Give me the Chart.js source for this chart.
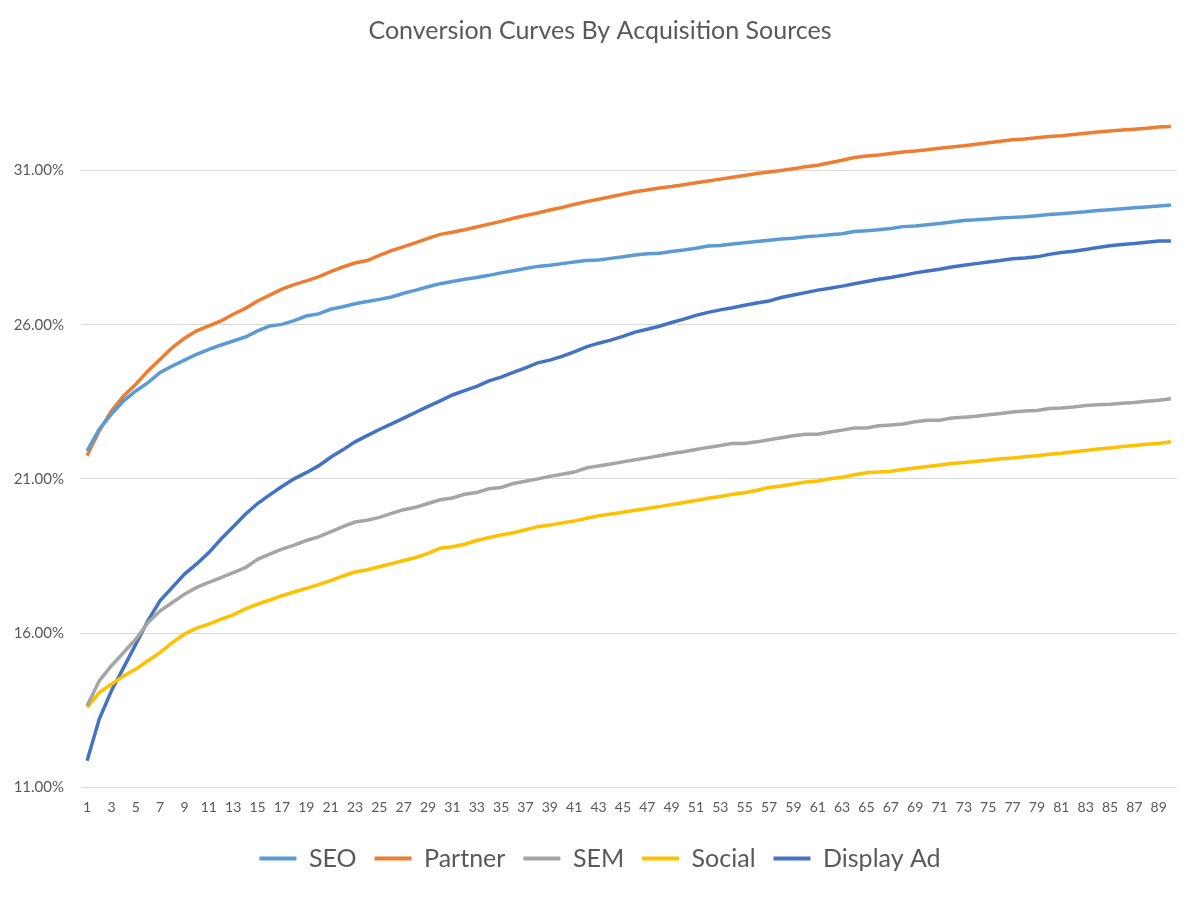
<!DOCTYPE html>
<html>
<head>
<meta charset="utf-8">
<script src="https://cdn.jsdelivr.net/npm/chart.js@4/dist/chart.umd.min.js"></script>
<style>
  html, body { margin: 0; padding: 0; background: #fff; }
  #wrap { width: 1194px; height: 898px; }
</style>
</head>
<body>
<div id="wrap"><canvas id="myChart" width="1194" height="898"></canvas></div>
<script>
// days since acquisition (1..90)
var days = [];
for (var d = 1; d <= 90; d++) days.push(String(d));

// conversion rates (%)
var seo = [21.91, 22.61, 23.1, 23.53, 23.85, 24.12, 24.45, 24.66, 24.85, 25.04,
    25.2, 25.34, 25.47, 25.6, 25.8, 25.96, 26.01, 26.13, 26.28, 26.35,
    26.5, 26.58, 26.68, 26.75, 26.82, 26.9, 27.02, 27.12, 27.23, 27.33,
    27.4, 27.47, 27.53, 27.6, 27.68, 27.75, 27.82, 27.89, 27.93, 27.98,
    28.03, 28.08, 28.1, 28.15, 28.2, 28.26, 28.3, 28.32, 28.37, 28.42,
    28.48, 28.55, 28.57, 28.62, 28.66, 28.7, 28.74, 28.78, 28.8, 28.85,
    28.88, 28.92, 28.95, 29.02, 29.05, 29.08, 29.12, 29.18, 29.2, 29.24,
    29.28, 29.33, 29.38, 29.4, 29.43, 29.46, 29.48, 29.5, 29.53, 29.57,
    29.6, 29.63, 29.66, 29.7, 29.73, 29.76, 29.79, 29.82, 29.85, 29.88];

var partner = [21.75, 22.56, 23.2, 23.69, 24.07, 24.5, 24.88, 25.26, 25.56, 25.8,
    25.96, 26.12, 26.34, 26.53, 26.77, 26.96, 27.15, 27.3, 27.42, 27.55,
    27.72, 27.87, 28.0, 28.08, 28.25, 28.4, 28.53, 28.66, 28.8, 28.93,
    29.0, 29.08, 29.17, 29.26, 29.35, 29.45, 29.54, 29.62, 29.72, 29.8,
    29.9, 29.99, 30.07, 30.15, 30.23, 30.31, 30.37, 30.43, 30.48, 30.54,
    30.6, 30.66, 30.72, 30.78, 30.84, 30.9, 30.95, 31.0, 31.06, 31.12,
    31.17, 31.25, 31.33, 31.42, 31.47, 31.5, 31.55, 31.6, 31.63, 31.67,
    31.72, 31.76, 31.8, 31.85, 31.9, 31.95, 32.0, 32.02, 32.06, 32.1,
    32.13, 32.17, 32.21, 32.25, 32.28, 32.31, 32.34, 32.37, 32.41, 32.43];

var sem = [13.64, 14.45, 14.94, 15.37, 15.8, 16.34, 16.72, 16.99, 17.26, 17.48,
    17.64, 17.8, 17.96, 18.12, 18.39, 18.56, 18.72, 18.85, 19.0, 19.12,
    19.28, 19.45, 19.6, 19.66, 19.75, 19.88, 20.0, 20.08, 20.2, 20.32,
    20.38, 20.5, 20.56, 20.68, 20.72, 20.85, 20.92, 21.0, 21.08, 21.15,
    21.22, 21.35, 21.42, 21.48, 21.55, 21.62, 21.68, 21.75, 21.82, 21.88,
    21.95, 22.02, 22.08, 22.15, 22.15, 22.2, 22.27, 22.33, 22.4, 22.45,
    22.45, 22.52, 22.58, 22.65, 22.65, 22.72, 22.75, 22.78, 22.85, 22.9,
    22.9, 22.97, 23.0, 23.03, 23.08, 23.12, 23.17, 23.2, 23.22, 23.28,
    23.3, 23.33, 23.38, 23.4, 23.42, 23.45, 23.48, 23.52, 23.55, 23.6];

var social = [13.59, 14.07, 14.34, 14.61, 14.83, 15.1, 15.37, 15.69, 15.97, 16.16,
    16.29, 16.45, 16.59, 16.78, 16.94, 17.07, 17.21, 17.33, 17.45, 17.57,
    17.7, 17.85, 17.98, 18.05, 18.15, 18.25, 18.35, 18.45, 18.58, 18.75,
    18.8, 18.88, 19.0, 19.1, 19.18, 19.25, 19.35, 19.45, 19.5, 19.57,
    19.63, 19.72, 19.8, 19.86, 19.92, 19.98, 20.04, 20.1, 20.17, 20.23,
    20.3, 20.37, 20.43, 20.5, 20.55, 20.63, 20.72, 20.77, 20.83, 20.9,
    20.93, 21.0, 21.05, 21.13, 21.2, 21.22, 21.25, 21.3, 21.35, 21.4,
    21.45, 21.5, 21.53, 21.57, 21.6, 21.65, 21.68, 21.72, 21.75, 21.8,
    21.83, 21.88, 21.92, 21.97, 22.0, 22.05, 22.08, 22.12, 22.15, 22.2];

var displayAd = [11.86, 13.21, 14.13, 14.88, 15.64, 16.4, 17.05, 17.48, 17.91, 18.24,
    18.61, 19.05, 19.45, 19.85, 20.2, 20.48, 20.75, 21.0, 21.2, 21.42,
    21.7, 21.94, 22.2, 22.4, 22.6, 22.78, 22.97, 23.16, 23.35, 23.53,
    23.72, 23.86, 24.0, 24.18, 24.3, 24.45, 24.6, 24.76, 24.85, 24.97,
    25.12, 25.28, 25.4, 25.5, 25.62, 25.76, 25.85, 25.95, 26.07, 26.18,
    26.3, 26.4, 26.48, 26.55, 26.63, 26.7, 26.77, 26.88, 26.96, 27.04,
    27.12, 27.18, 27.25, 27.33, 27.4, 27.47, 27.53, 27.6, 27.68, 27.74,
    27.8, 27.87, 27.93, 27.98, 28.03, 28.08, 28.14, 28.16, 28.2, 28.28,
    28.34, 28.38, 28.44, 28.5, 28.56, 28.6, 28.63, 28.67, 28.71, 28.71];

var yTicks = [11, 16, 21, 26, 31];

var seriesNames = ['SEO', 'Partner', 'SEM', 'Social', 'Display Ad'];
var seriesColors = ['#5B9BD5', '#ED7D31', '#A5A5A5', '#FFC000', '#4472C4'];
var seriesData = [seo, partner, sem, social, displayAd];

var textColor = '#595959';
var fontFamily = 'Lato, "Open Sans", sans-serif';

var datasets = [];
for (var i = 0; i < seriesNames.length; i++) {
    datasets.push({
        label: seriesNames[i],
        data: seriesData[i],
        borderColor: seriesColors[i],
        backgroundColor: seriesColors[i],
        borderWidth: 3.5,
        pointRadius: 0,
        tension: 0,
        fill: false
    });
}

const ctx = document.getElementById('myChart').getContext('2d');
const myChart = new Chart(ctx, {
    type: 'line',
    data: {
        labels: days,
        datasets: datasets
    },
    options: {
        responsive: false,
        animation: false,
        layout: {
            padding: { left: 10, right: 4, top: 0, bottom: 17 }
        },
        plugins: {
            title: {
                display: true,
                text: 'Conversion Curves By Acquisition Sources',
                color: textColor,
                font: { family: fontFamily, size: 25, weight: 'normal' },
                padding: { top: 16, bottom: 32 }
            },
            legend: {
                position: 'bottom',
                labels: {
                    color: textColor,
                    font: { family: fontFamily, size: 25 },
                    boxWidth: 37,
                    boxHeight: 4,
                    padding: 18,
                    generateLabels: function (chart) {
                        var items = Chart.defaults.plugins.legend.labels.generateLabels(chart);
                        items.forEach(function (it) {
                            it.lineWidth = 0;
                            it.fillStyle = it.strokeStyle;
                        });
                        return items;
                    }
                }
            },
            tooltip: { enabled: false }
        },
        scales: {
            x: {
                offset: true,
                grid: { display: false, drawTicks: false },
                border: { display: false },
                ticks: {
                    autoSkip: false,
                    maxRotation: 0,
                    color: textColor,
                    font: { family: fontFamily, size: 14 },
                    padding: 12,
                    callback: function (val, index) {
                        return index % 2 === 0 ? this.getLabelForValue(val) : '';
                    }
                }
            },
            y: {
                min: 11,
                max: 34,
                afterBuildTicks: function (axis) {
                    axis.ticks = yTicks.map(function (v) { return { value: v }; });
                },
                afterFit: function (axis) {
                    axis.width = 71;
                },
                grid: { color: '#D9D9D9', lineWidth: 1, drawTicks: false },
                border: { display: false },
                ticks: {
                    color: textColor,
                    font: { family: fontFamily, size: 15 },
                    padding: 17,
                    callback: function (v) { return v.toFixed(2) + '%'; }
                }
            },
            // empty right-hand margin so the title and legend stay centred
            yRight: {
                position: 'right',
                display: true,
                grid: { display: false, drawTicks: false },
                border: { display: false },
                ticks: { display: false },
                afterFit: function (axis) {
                    axis.width = 13;
                }
            }
        }
    }
});
</script>
</body>
</html>
